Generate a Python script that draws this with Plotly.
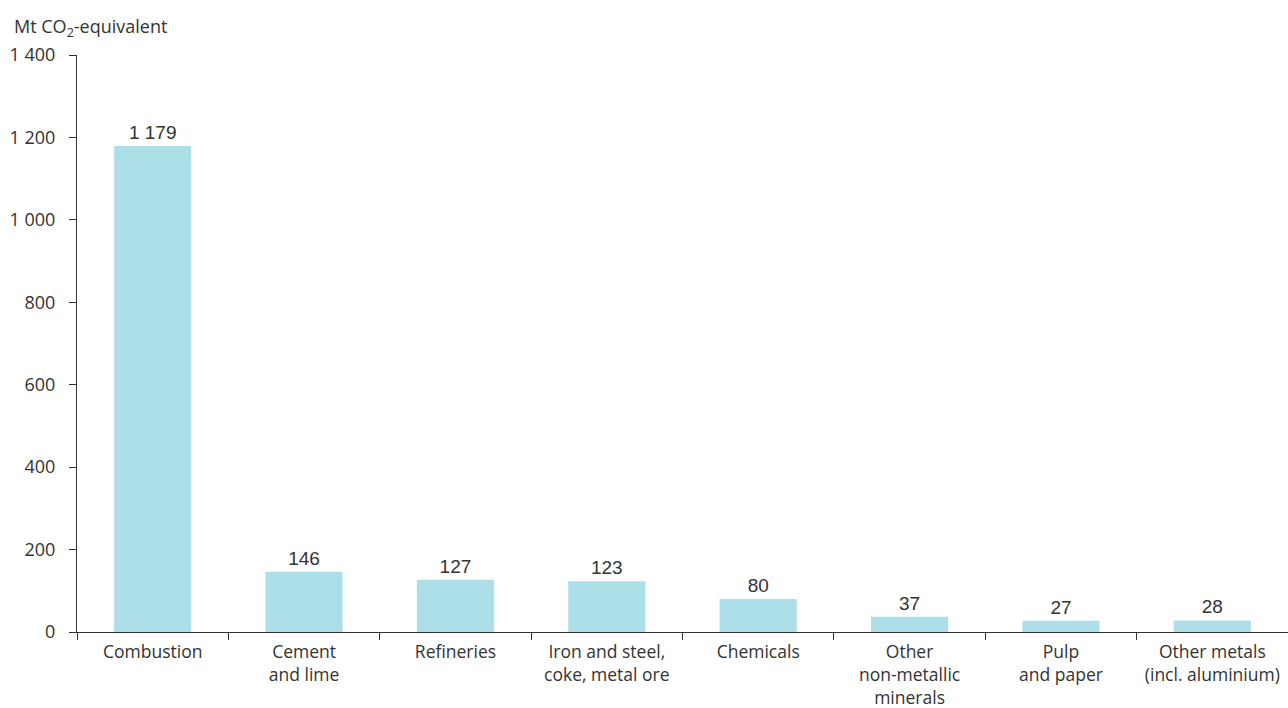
import plotly.graph_objects as go

categories = [
    "Combustion",
    "Cement<br>and lime",
    "Refineries",
    "Iron and steel,<br>coke, metal ore",
    "Chemicals",
    "Other<br>non-metallic<br>minerals",
    "Pulp<br>and paper",
    "Other metals<br>(incl. aluminium)",
]
values = [1179, 146, 127, 123, 80, 37, 27, 28]
y_ticks = [0, 200, 400, 600, 800, 1000, 1200, 1400]

TEXT = "#333333"
AXIS = "#333333"

fig = go.Figure(
    go.Bar(
        x=categories,
        y=values,
        marker=dict(color="#ADDFE8", line=dict(width=0)),
        text=values,
        texttemplate="%{y:,.0f}",
        textposition="outside",
        textfont=dict(family="Liberation Sans, Arial", size=19, color=TEXT),
        cliponaxis=False,
        hoverinfo="skip",
    )
)

fig.update_layout(
    width=1288,
    height=708,
    margin=dict(l=77, r=0, t=55, b=76),
    paper_bgcolor="white",
    plot_bgcolor="white",
    separators=". ",
    bargap=0.49,
    showlegend=False,
    font=dict(family="Open Sans", size=18, color=TEXT),
)

fig.update_yaxes(
    range=[0, 1400],
    tickvals=y_ticks,
    tickformat=",.0f",
    showgrid=False,
    zeroline=False,
    showline=True,
    linecolor=AXIS,
    linewidth=1,
    ticks="outside",
    ticklen=7,
    tickcolor=AXIS,
    ticklabelstandoff=10,
    automargin=False,
    tickfont=dict(family="Open Sans", size=18, color=TEXT),
)

fig.update_xaxes(
    showgrid=False,
    showline=True,
    linecolor=AXIS,
    linewidth=1,
    ticks="outside",
    tickson="boundaries",
    ticklen=7,
    tickcolor=AXIS,
    ticklabelstandoff=4,
    automargin=False,
    tickfont=dict(family="Open Sans", size=17.5, color=TEXT),
)

fig.add_annotation(
    text="Mt CO<sub>2</sub>-equivalent",
    xref="paper", yref="paper",
    x=-65 / 1211, y=1 + 27 / 577,
    xanchor="left", yanchor="middle",
    showarrow=False,
    font=dict(family="Open Sans", size=18, color=TEXT),
)

fig.write_html(
    "out.html",
    config={"displayModeBar": False},
    post_script="document.body.style.margin='0';document.body.style.overflow='hidden';",
)
